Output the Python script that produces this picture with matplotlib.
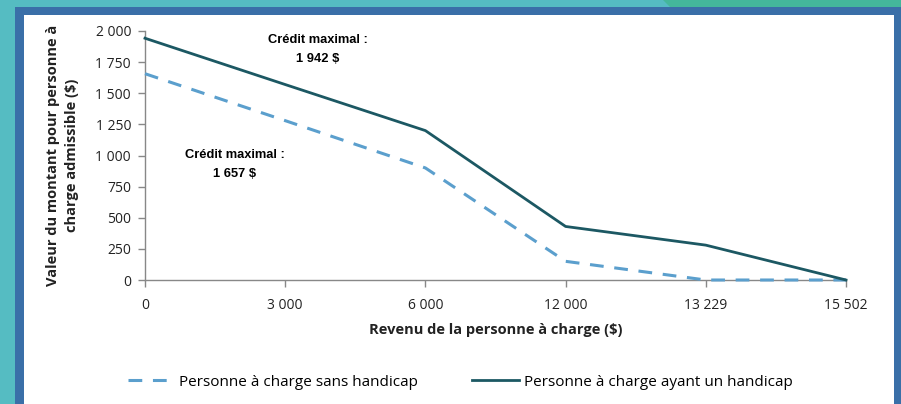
import matplotlib
matplotlib.use('Agg')
import matplotlib.pyplot as plt
from matplotlib.patches import Rectangle, Polygon
from matplotlib.lines import Line2D

# catégories de revenu (axe x catégoriel, espacement égal)
revenus = ['0', '3 000', '6 000', '12 000', '13 229', '15 502']
# valeur du crédit selon le revenu
sans_handicap = [1657, 1280, 900, 150, 0, 0]
avec_handicap = [1942, 1570, 1200, 430, 280, 0]
y_ticks = [0, 250, 500, 750, 1000, 1250, 1500, 1750, 2000]
y_tick_labels = ['0', '250', '500', '750', '1 000', '1 250', '1 500', '1 750', '2 000']

plt.rcParams['font.family'] = ['Open Sans', 'DejaVu Sans']

W, H = 901, 404
fig = plt.figure(figsize=(W / 100, H / 100), dpi=100)
fig.patch.set_facecolor('#55bcc2')

def px_rect(x0, y0, x1, y1, color):
    # rectangle en pixels (origine en haut à gauche)
    return Rectangle((x0 / W, 1 - y1 / H), (x1 - x0) / W, (y1 - y0) / H,
                     transform=fig.transFigure, facecolor=color, edgecolor='none', zorder=-5)

fig.patches.append(Polygon([(663 / W, 1), (1, 1), (1, 1 - 7 / H), (670 / W, 1 - 7 / H)],
                           closed=True, transform=fig.transFigure,
                           facecolor='#44b79b', edgecolor='none', zorder=-5))
fig.patches.append(px_rect(15, 7, 901, 404, '#3a6fa8'))
fig.patches.append(px_rect(24, 15, 894, 404, 'white'))

ax = fig.add_axes([145 / W, 1 - 280 / H, 701 / W, 249 / H])
ax.set_zorder(2)
ax.set_facecolor('none')
x = list(range(len(revenus)))

ax.plot(x, sans_handicap, color='#5b9fcd', linewidth=2.2, linestyle=(0, (4.5, 3.5)), zorder=3,
        clip_on=False)
ax.plot(x, avec_handicap, color='#1c5863', linewidth=2, zorder=4, clip_on=False)

ax.set_xlim(0, len(revenus) - 1)
ax.set_ylim(0, 2000)
ax.set_xticks(x)
ax.set_xticklabels(revenus, fontsize=10, color='#222222')
ax.set_yticks(y_ticks)
ax.set_yticklabels(y_tick_labels, fontsize=10, color='#222222')
ax.tick_params(axis='both', direction='out', length=5, color='#888888', width=1)
ax.tick_params(axis='x', pad=8)
ax.tick_params(axis='y', pad=5)
for s in ['top', 'right']:
    ax.spines[s].set_visible(False)
for s in ['left', 'bottom']:
    ax.spines[s].set_color('#888888')
    ax.spines[s].set_linewidth(1)

ax.set_xlabel('Revenu de la personne à charge ($)', fontsize=10.5, fontweight='bold', labelpad=7, color='#222222')
ax.set_ylabel('Valeur du montant pour personne à\ncharge admissible ($)', fontsize=10.5,
              fontweight='bold', labelpad=12, color='#222222', linespacing=1.45)

# annotations
ann_font = ['Liberation Sans Narrow', 'Liberation Sans', 'DejaVu Sans']
ax.text(1.23, 1850, 'Crédit maximal :\n1 942 $', ha='center', va='center', fontsize=9.3,
        fontweight='bold', family=ann_font, linespacing=1.75)
ax.text(0.64, 930, 'Crédit maximal :\n1 657 $', ha='center', va='center', fontsize=9.3,
        fontweight='bold', family=ann_font, linespacing=1.75)

# légende
handles = [Line2D([0], [0], color='#5b9fcd', linewidth=2.2, linestyle=(0, (4.5, 3.5))),
           Line2D([0], [0], color='#1c5863', linewidth=2)]
fig.legend(handles, ['Personne à charge sans handicap', 'Personne à charge ayant un handicap'],
           loc='center', bbox_to_anchor=(460 / W, 1 - 382 / H), ncol=2, frameon=False,
           fontsize=11, handlelength=3.1, handletextpad=0.3, columnspacing=3.5)

fig.savefig('out.png', dpi=100)
